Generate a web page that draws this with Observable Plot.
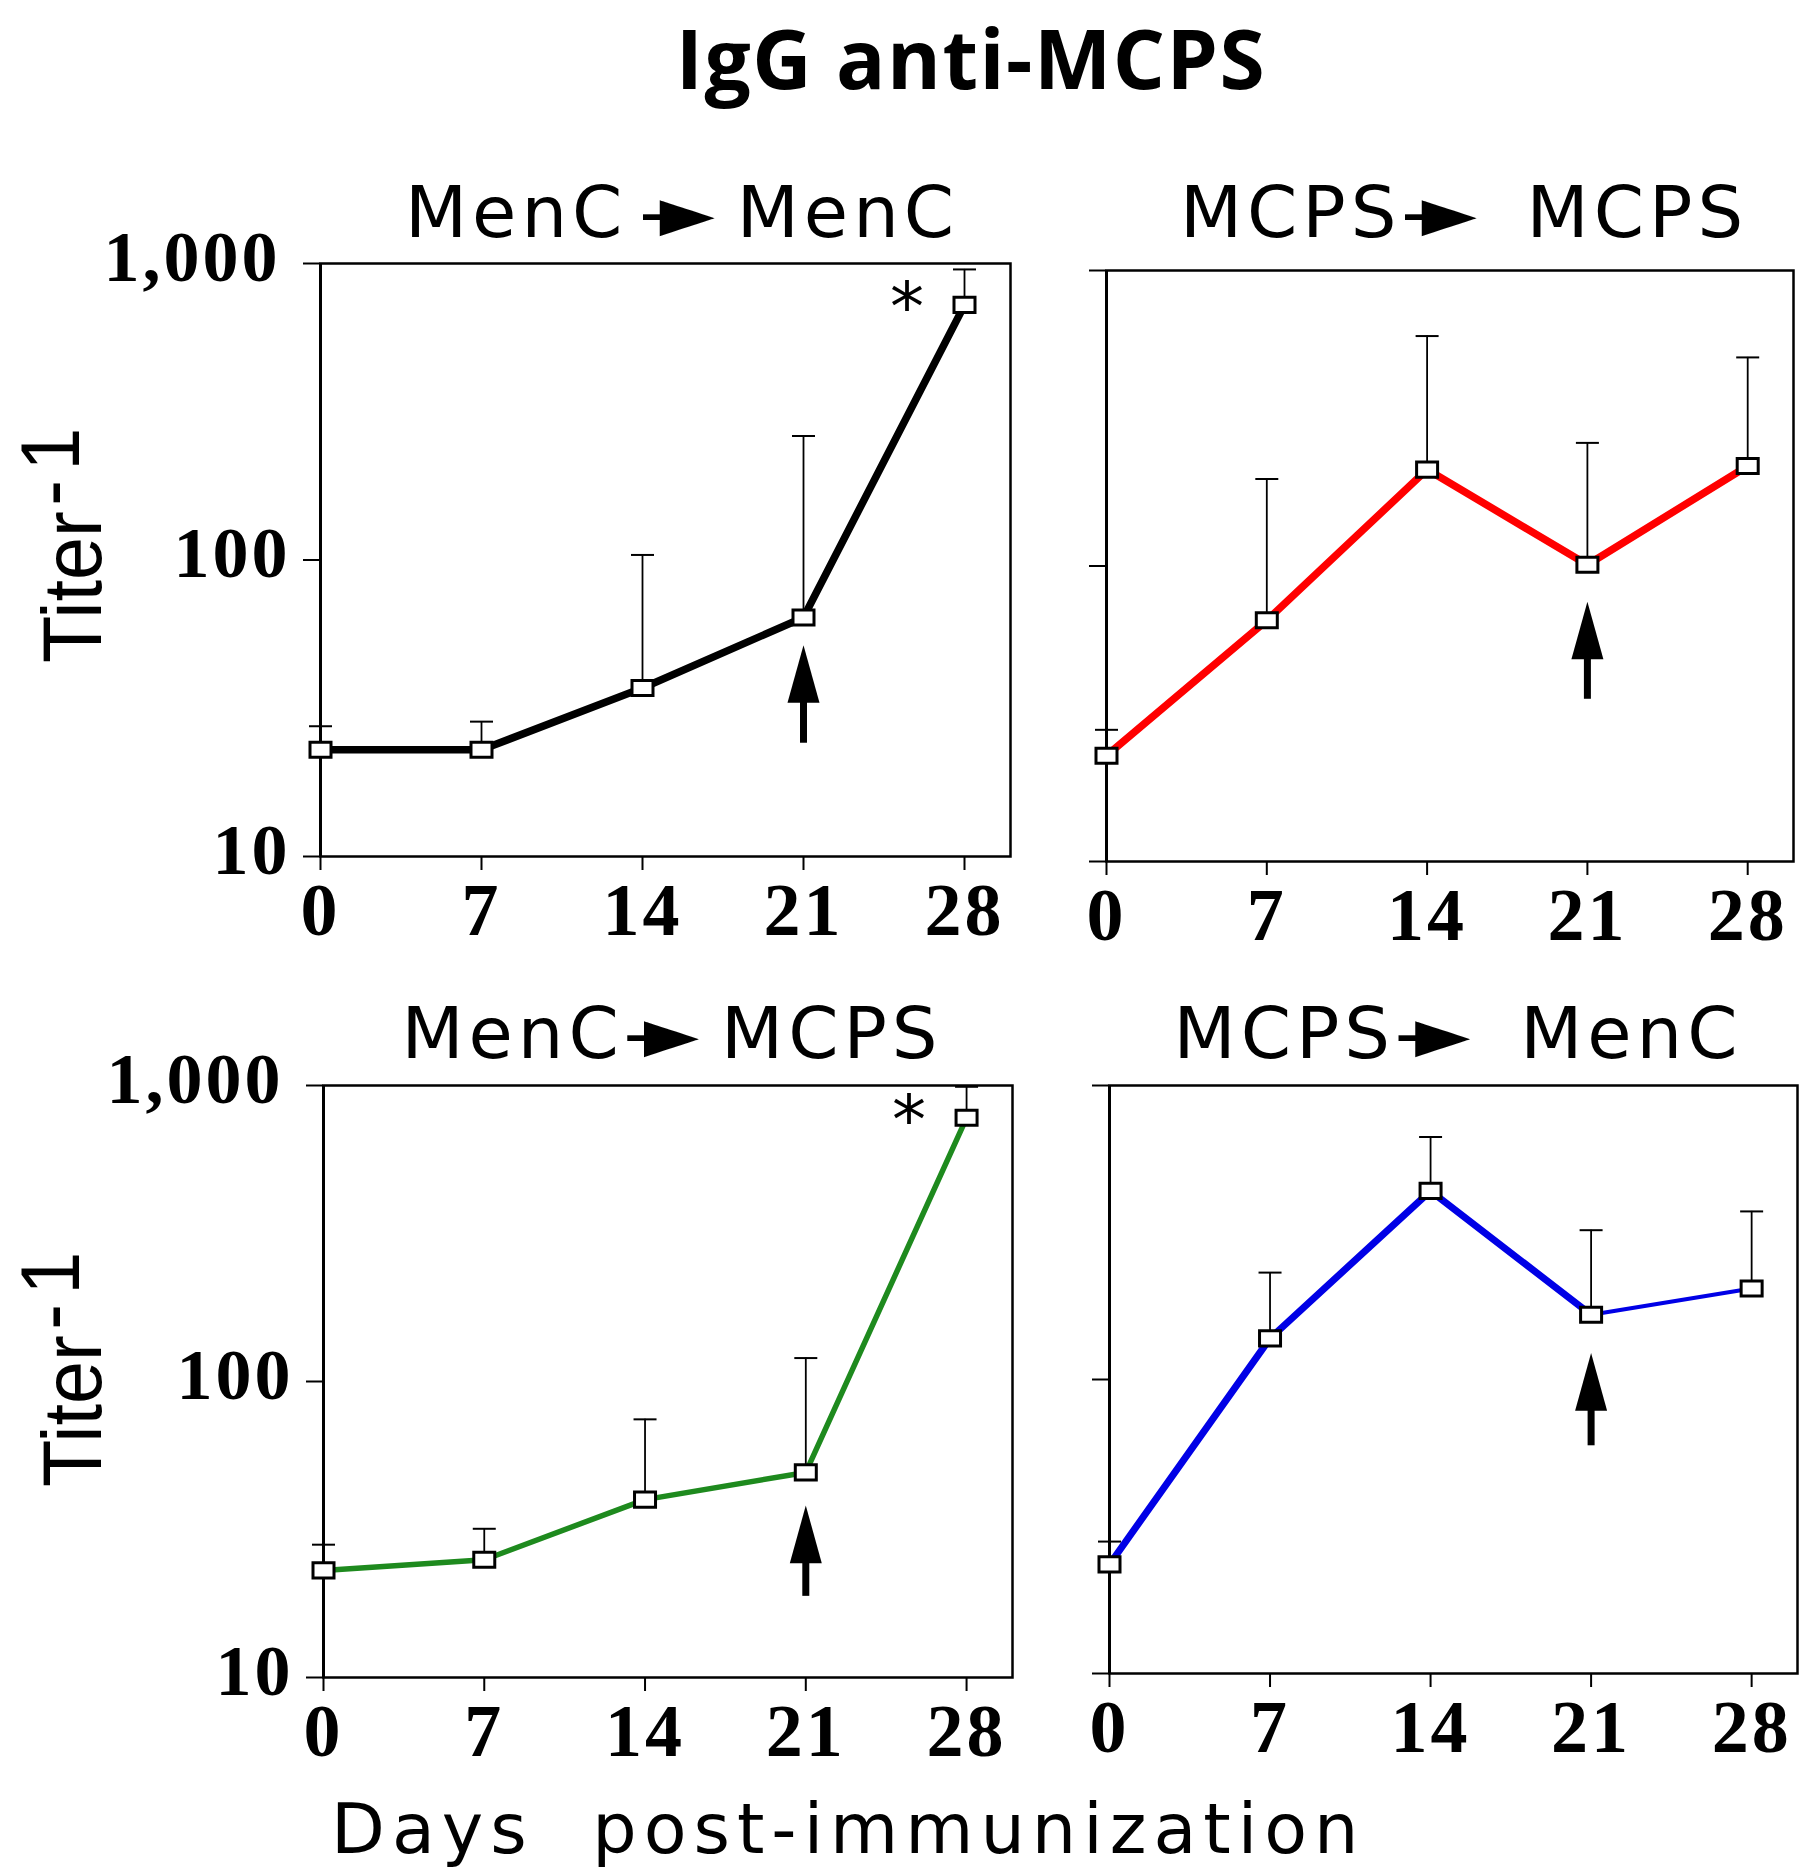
<!DOCTYPE html>
<html><head><meta charset="utf-8">
<script src="https://cdn.jsdelivr.net/npm/d3@7"></script>
<script src="https://cdn.jsdelivr.net/npm/@observablehq/plot@0.6"></script>
<style>
body{margin:0;background:#fff;}
#root{position:relative;width:1812px;height:1874px;overflow:hidden;background:#fff;color:#000;}
.abs{position:absolute;white-space:nowrap;line-height:1;}
.ptitle{font-family:"DejaVu Sans";font-size:72px;letter-spacing:5px;transform:translateX(-50%);}
.arr{letter-spacing:-6px;}
.ylab{font-family:"Liberation Sans";font-size:84px;transform-origin:0 0;transform:rotate(-90deg) scaleX(0.92);}
.ylab span{position:relative;top:-22px;margin-left:6px;letter-spacing:10px;}
</style></head><body><div id="root"></div>
<script>
// ---- data ----
const days = [0, 7, 14, 21, 28];
const xTicks = [0, 7, 14, 21, 28];
const yTicks = [10, 100, 1000];
const mainTitle = "IgG anti-MCPS";
const xLabel = "Days  post-immunization";
const yLabel = "Titer";
const yLabelSup = "-1";
const panelFrom = ["MenC", "MCPS", "MenC", "MCPS"];
const panelTo = ["MenC", "MCPS", "MCPS", "MenC"];
// geometric means (titer^-1) and upper error bars
const menCMenC = [22.9, 22.9, 37, 64, 725];
const menCMenCErr = [27.5, 28.5, 104, 262, 955];
const mcpsMcps = [22.8, 65.5, 212, 101, 218];
const mcpsMcpsErr = [27.9, 197, 600, 261, 508];
const menCMcps = [23.0, 25.0, 39.9, 49.3, 778];
const menCMcpsErr = [28.1, 31.8, 74.5, 120, 990];
const mcpsMenC = [23.5, 138, 438, 166, 204];
const mcpsMenCErr = [28.1, 231, 668, 322, 373];
const boostDay = 21;
const arrowTip = [51.6, 75.7, 38.1, 123];
const arrowTail = [24.1, 35.4, 18.8, 59.5];
const significant = [true, false, true, false];

const seriesValues = [menCMenC, mcpsMcps, menCMcps, mcpsMenC];
const seriesErrors = [menCMenCErr, mcpsMcpsErr, menCMcpsErr, mcpsMenCErr];

// ---- styles / layout ----
const lineColors = ["#000000", "#ff0000", "#1e8a1e", "#0000e6"];
const lineWidths = [7.5, 7.5, 5.5, 7];      // days 0–21
const tailWidths = [7.5, 7.5, 5.5, 4];      // days 21–28
const layout = [
  {left:0, top:150, width:1040, height:806, ml:320, mr:30, mt:113, mb:100},
  {left:1040, top:150, width:772, height:806, ml:66, mr:19, mt:120, mb:95},
  {left:0, top:980, width:1040, height:797, ml:323, mr:28, mt:105, mb:100},
  {left:1040, top:980, width:772, height:797, ml:69, mr:15, mt:105, mb:104}
];
const HAIR = "\u200A";
const titlePos = [{x:682, top:176, sep:HAIR, sep2:"\u00A0"}, {x:1464, top:176, sep:"", sep2:"\u00A0\u00A0"},
                  {x:672, top:997, sep:"", sep2:"\u00A0"}, {x:1458, top:997, sep:"", sep2:"\u00A0\u00A0"}];
const yPad = [13, 13, 23];

const root = document.getElementById("root");

const rectSymbol = {draw(ctx, size){const r = Math.sqrt(size/Math.PI); const w = r, h = r*0.72;
  ctx.moveTo(-w,-h); ctx.lineTo(w,-h); ctx.lineTo(w,h); ctx.lineTo(-w,h); ctx.closePath();}};
const capSymbol = {draw(ctx, size){const r = Math.sqrt(size/Math.PI); ctx.moveTo(-r,0); ctx.lineTo(r,0);}};
const headSymbol = {draw(ctx, size){const r = Math.sqrt(size/Math.PI);
  ctx.moveTo(0,0); ctx.lineTo(r, r*3.6); ctx.lineTo(-r, r*3.6); ctx.closePath();}};

function addDiv(cls, html, left, top){
  const d = document.createElement("div");
  d.className = "abs " + cls; d.innerHTML = html;
  d.style.left = left + "px"; d.style.top = top + "px";
  root.appendChild(d); return d;
}

// main title
const t = addDiv("", mainTitle, 971, 16);
t.style.fontFamily = "'Open Sans'"; t.style.fontWeight = "700"; t.style.fontSize = "82px";
t.style.letterSpacing = "1.5px"; t.style.transform = "translateX(-50%)";

// x label
const xl = addDiv("", xLabel.replace(/ /g, "&nbsp;"), 331, 1794);
xl.style.fontFamily = "'DejaVu Sans'"; xl.style.fontSize = "70px"; xl.style.letterSpacing = "7px";

// y labels
addDiv("ylab", yLabel + "<span>" + yLabelSup + "</span>", 30, 663);
addDiv("ylab", yLabel + "<span>" + yLabelSup + "</span>", 30, 1487);

for (let i = 0; i < 4; i++) {
  const vals = seriesValues[i], errs = seriesErrors[i];
  const pts = days.map((d, k) => ({day: d, v: vals[k], err: errs[k]}));
  const boostIdx = days.indexOf(boostDay);
  const L = layout[i];
  const isLeft = i % 2 === 0;
  const yAxes = [Plot.axisY({ticks: yTicks, tickSize: 17, tickFormat: () => "", strokeWidth: 2})];
  if (isLeft) yTicks.forEach((tk, k) => yAxes.push(
    Plot.axisY({ticks: [tk], tickSize: 0, tickPadding: 17 + yPad[k], tickFormat: d3.format(","),
      fontSize: 72, fontWeight: "bold", dy: -6})));
  const svg = Plot.plot({
    width: L.width, height: L.height,
    marginLeft: L.ml, marginRight: L.mr, marginTop: L.mt, marginBottom: L.mb,
    x: {domain: [0, 30]},
    y: {type: "log", domain: [10, 1000]},
    style: {fontFamily: "'Liberation Serif'", fontWeight: "bold", fontSize: "72px", color: "black",
            background: "transparent", overflow: "visible", letterSpacing: "3px"},
    marks: [
      Plot.frame({stroke: "black", strokeWidth: 2.5}),
      Plot.ruleX([0], {stroke: "black", strokeWidth: 3}),
      Plot.axisX({ticks: xTicks, tickSize: 14, tickPadding: 12, tickFormat: d => String(d),
        fontSize: 74, fontWeight: "bold", strokeWidth: 2, label: null}),
      ...yAxes,
      Plot.ruleX(pts, {x: "day", y1: "v", y2: "err", stroke: "black", strokeWidth: 1.8}),
      Plot.dot(pts, {x: "day", y: "err", symbol: capSymbol, r: 11.5, stroke: "black", strokeWidth: 2, fill: "none"}),
      Plot.line(pts.slice(0, boostIdx + 1), {x: "day", y: "v", stroke: lineColors[i], strokeWidth: lineWidths[i], strokeLinecap: "round", strokeLinejoin: "round"}),
      Plot.line(pts.slice(boostIdx), {x: "day", y: "v", stroke: lineColors[i], strokeWidth: tailWidths[i], strokeLinecap: "round"}),
      Plot.dot(pts, {x: "day", y: "v", symbol: rectSymbol, r: 10.5, fill: "white", stroke: "black", strokeWidth: 3}),
      Plot.ruleX([i], {x: () => boostDay, y1: () => arrowTip[i], y2: () => arrowTail[i], stroke: "black", strokeWidth: 7, insetTop: 30}),
      Plot.dot([i], {x: () => boostDay, y: () => arrowTip[i], symbol: headSymbol, r: 16, fill: "black", stroke: "none"}),
      significant[i] ? Plot.text([vals[vals.length - 1]], {x: () => days[days.length - 1], y: d => d, text: () => "*",
        dx: -56, dy: 3, fontSize: 68, fontFamily: "DejaVu Sans", fontWeight: "normal"}) : null
    ]
  });
  svg.style.position = "absolute";
  svg.style.left = L.left + "px";
  svg.style.top = L.top + "px";
  root.appendChild(svg);

  const tp = titlePos[i];
  addDiv("ptitle", panelFrom[i] + tp.sep + '<span class="arr">-►</span>' + tp.sep2 + panelTo[i], tp.x, tp.top);
}
</script>
</body></html>
